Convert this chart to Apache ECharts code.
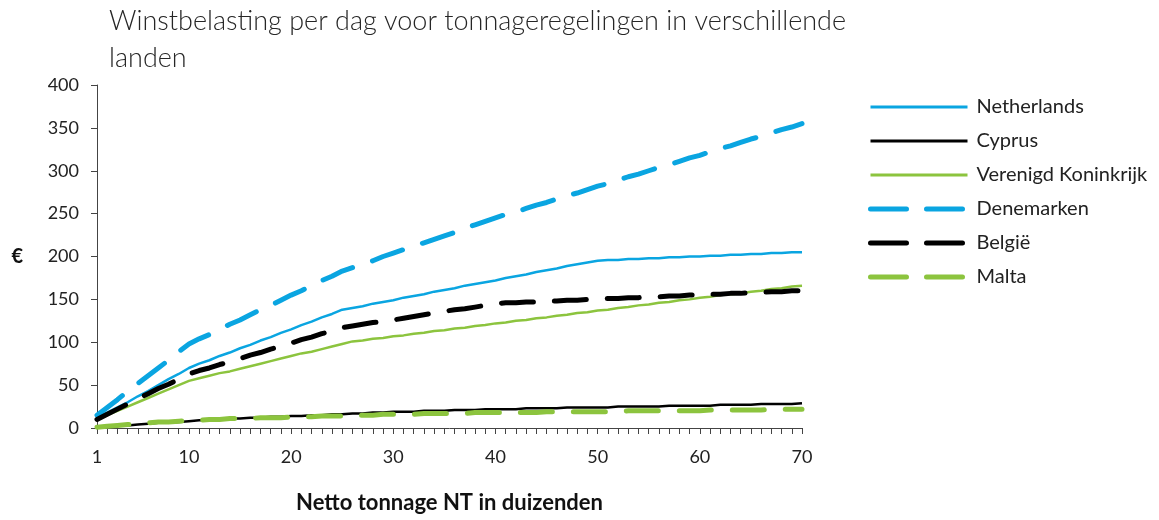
<!DOCTYPE html>
<html>
<head>
<meta charset="utf-8">
<script src="https://cdn.jsdelivr.net/npm/echarts@6/dist/echarts.min.js"></script>
<style>
  html, body { margin: 0; padding: 0; background: #fff; }
  #container { width: 1159px; height: 520px; }
</style>
</head>
<body>
<div id="container"></div>
<script>
// netto tonnage (x1000 NT)
const tonnage = [];
for (let i = 1; i <= 70; i++) tonnage.push(String(i));

const yTicks = [0, 50, 100, 150, 200, 250, 300, 350, 400];

const netherlands = [12,18,24,30,37,43,50,57,63,70,75,79,84,88,93,97,102,106,111,115,120,124,129,133,138,140,142,145,147,149,152,154,156,159,161,163,166,168,170,172,175,177,179,182,184,186,189,191,193,195,196,196,197,197,198,198,199,199,200,200,201,201,202,202,203,203,204,204,205,205];
const cyprus = [1,2,3,3,4,5,6,6,7,8,9,9,10,11,11,12,12,13,13,14,14,15,15,16,16,17,17,18,18,19,19,19,20,20,20,21,21,21,22,22,22,22,23,23,23,23,24,24,24,24,24,25,25,25,25,25,26,26,26,26,26,27,27,27,27,28,28,28,28,29];
const vk = [10,15,20,25,30,35,40,45,50,55,58,61,64,66,69,72,75,78,81,84,87,89,92,95,98,101,102,104,105,107,108,110,111,113,114,116,117,119,120,122,123,125,126,128,129,131,132,134,135,137,138,140,141,143,144,146,147,149,150,152,153,155,156,157,159,160,162,163,165,166];
const denemarken = [15,24,33,43,52,61,70,79,89,98,104,109,115,121,126,132,138,143,149,155,160,166,172,177,183,187,191,195,200,204,208,212,216,220,224,228,233,237,241,245,249,252,256,260,263,267,271,274,278,282,285,289,293,296,300,304,307,311,315,318,322,326,329,333,337,340,344,348,351,355];
const belgie = [10,16,22,28,34,40,46,51,57,63,67,70,74,77,81,85,88,92,95,99,103,106,110,113,117,119,121,123,124,126,128,130,132,134,136,138,139,141,143,145,146,146,147,147,148,148,149,149,150,150,151,151,152,152,153,153,154,154,155,155,156,156,157,157,158,158,159,159,160,160];
const malta = [1,2,3,4,5,6,7,7,8,9,9,10,10,11,11,11,12,12,12,13,13,13,14,14,14,15,15,15,16,16,16,16,17,17,17,17,17,18,18,18,18,18,18,18,19,19,19,19,19,19,19,19,20,20,20,20,20,20,20,20,21,21,21,21,21,21,22,22,22,22];

const BLUE = '#0aa5e1';
const GREEN = '#8cc43e';
const BLACK = '#000000';
const FONT = 'Lato, "Open Sans", sans-serif';

function solid(name, data, color) {
  return {
    name: name, type: 'line', data: data, symbol: 'none',
    lineStyle: { color: color, width: 2.5 },
    itemStyle: { color: color }
  };
}
function dashed(name, data, color) {
  return {
    name: name, type: 'line', data: data, symbol: 'none',
    lineStyle: { color: color, width: 5, type: [32, 21], cap: 'round' },
    itemStyle: { color: color }
  };
}
function legendSolid(name) {
  return { name: name, lineStyle: { width: 3 } };
}
function legendDashed(name) {
  return { name: name, lineStyle: { width: 5, type: [36, 20], cap: 'round' } };
}

const myChart = echarts.init(document.getElementById('container'));
const option = {
  animation: false,
  textStyle: { fontFamily: FONT },
  title: {
    text: 'Winstbelasting per dag voor tonnageregelingen in verschillende\nlanden',
    left: 104,
    top: -2,
    textStyle: { fontSize: 27, fontWeight: 300, color: '#262626', lineHeight: 37, fontFamily: FONT }
  },
  legend: {
    orient: 'vertical',
    left: 863,
    top: 92,
    itemWidth: 97,
    itemHeight: 14,
    itemGap: 14,
    itemStyle: { opacity: 0 },
    textStyle: { fontSize: 20, color: '#222', lineHeight: 20, padding: [0, 0, 0, 4] },
    data: [
      legendSolid('Netherlands'), legendSolid('Cyprus'), legendSolid('Verenigd Koninkrijk'),
      legendDashed('Denemarken'), legendDashed('België'), legendDashed('Malta')
    ]
  },
  grid: { left: 97, right: 357, top: 85, bottom: 92, outerBoundsMode: 'none' },
  xAxis: {
    type: 'category',
    data: tonnage,
    boundaryGap: false,
    name: 'Netto tonnage NT in duizenden',
    nameLocation: 'middle',
    nameGap: 64,
    nameTextStyle: { fontSize: 22, fontWeight: 'bold', color: '#111' },
    axisLine: { lineStyle: { color: '#444', width: 1 } },
    axisTick: { interval: 0, length: 6, lineStyle: { color: '#444' } },
    axisLabel: {
      interval: function (index) { return index === 0 || (index + 1) % 10 === 0; },
      fontSize: 18, color: '#222', margin: 20
    }
  },
  yAxis: {
    type: 'value',
    min: yTicks[0],
    max: yTicks[yTicks.length - 1],
    interval: 50,
    name: '€',
    nameLocation: 'middle',
    nameRotate: 0,
    nameGap: 74,
    nameTextStyle: { fontSize: 20, fontWeight: 'bold', color: '#111' },
    splitLine: { show: false },
    axisLine: { show: true, lineStyle: { color: '#444', width: 1 } },
    axisTick: { show: true, length: 6, lineStyle: { color: '#444' } },
    axisLabel: { fontSize: 18, color: '#222', margin: 18 }
  },
  series: [
    solid('Netherlands', netherlands, BLUE),
    solid('Cyprus', cyprus, BLACK),
    solid('Verenigd Koninkrijk', vk, GREEN),
    dashed('Denemarken', denemarken, BLUE),
    dashed('België', belgie, BLACK),
    dashed('Malta', malta, GREEN)
  ]
};
myChart.setOption(option);
</script>
</body>
</html>
